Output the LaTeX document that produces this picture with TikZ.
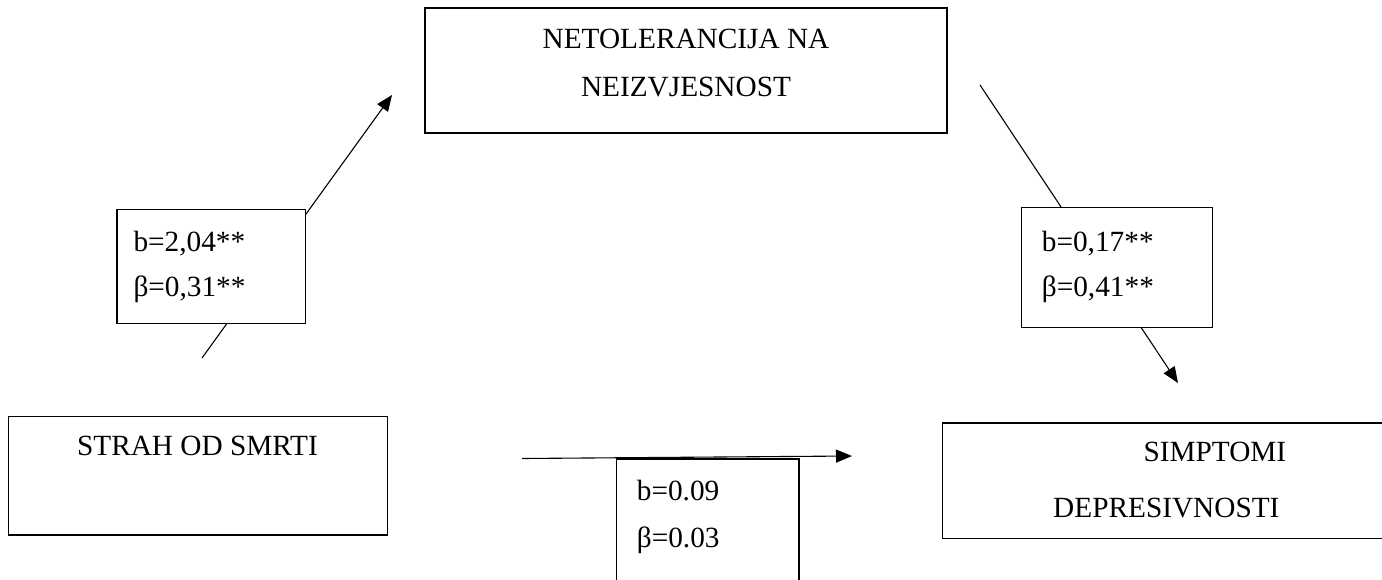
\documentclass[tikz,border=0pt]{standalone}
\usepackage{fontspec}
\setmainfont{Liberation Serif}
\usetikzlibrary{arrows.meta}
\begin{document}
\begin{tikzpicture}[x=1pt,y=-1pt,
  box/.style={draw, line width=1.2pt, rectangle, inner sep=0pt},
  lbox/.style={box, fill=white},
  txt/.style={inner sep=0pt, font=\fontsize{29.3}{35}\selectfont},
  conn/.style={line width=1.1pt, -{Triangle[length=16pt,width=13pt]}}]
\useasboundingbox (0,0) rectangle (1382,580);
\clip (0,0) rectangle (1382,580);
% main boxes
\node[box, minimum width=522pt, minimum height=125pt] (nt) at (686,70.5) {};
\node[txt, anchor=base] (nt1) at (686,48.3) {NETOLERANCIJA NA};
\node[txt, anchor=base] (nt2) at (686,96.7) {NEIZVJESNOST};
\node[box, minimum width=379pt, minimum height=118.3pt] (sm) at (197.8,475.9) {};
\node[txt, anchor=base] (sm1) at (197.5,455) {STRAH OD SMRTI};
\node[box, minimum width=477.4pt, minimum height=115.3pt] (sd) at (1181.4,480.7) {};
\node[txt, anchor=base west] (sd1) at (1143.3,461.7) {SIMPTOMI};
\node[txt, anchor=base west] (sd2) at (1053,517.5) {DEPRESIVNOSTI};
% connectors
\coordinate (s1) at (202,358);
\coordinate (e1) at (392,95);
\coordinate (s2) at (980,85);
\coordinate (e2) at (1178,383);
\coordinate (s3) at (522,458.5);
\coordinate (e3) at (852,456);
\draw[conn] (s1) -- (e1);
\draw[conn] (s2) -- (e2);
\draw[conn] (s3) -- (e3);
% coefficient boxes
\node[lbox, minimum width=188.7pt, minimum height=114pt] (c1) at (211.35,266.3) {};
\node[txt, anchor=base west] (c1a) at (133.3,251.5) {b=2,04**};
\node[txt, anchor=base west] (c1b) at (133.3,297) {β=0,31**};
\node[lbox, minimum width=190.6pt, minimum height=120pt] (c2) at (1117,267.3) {};
\node[txt, anchor=base west] (c2a) at (1041.7,251.5) {b=0,17**};
\node[txt, anchor=base west] (c2b) at (1041.7,297) {β=0,41**};
\node[lbox, minimum width=182.3pt, minimum height=161pt] (c3) at (707.85,539.5) {};
\node[txt, anchor=base west] (c3a) at (636.7,500) {b=0.09};
\node[txt, anchor=base west] (c3b) at (636.7,547) {β=0.03};
\end{tikzpicture}
\end{document}
